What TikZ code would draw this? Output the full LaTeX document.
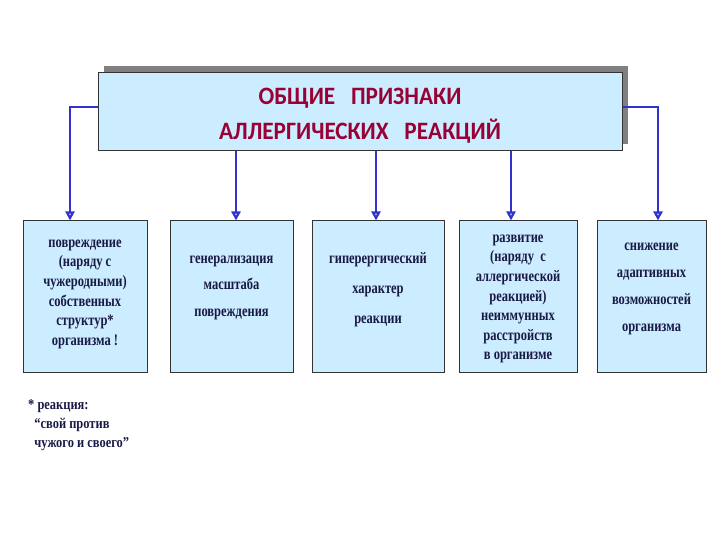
\documentclass[tikz,border=0pt]{standalone}
\usepackage{fontspec}
\setmainfont{Liberation Serif}
\newfontfamily\titlefont[FakeStretch=0.93]{Carlito}
\newfontfamily\boxfont[FakeStretch=0.78]{Liberation Serif}
\newfontfamily\notefont[FakeStretch=0.83]{Liberation Serif}
\usetikzlibrary{arrows.meta,shadows}

\definecolor{boxfill}{RGB}{204,236,255}
\definecolor{titlered}{RGB}{153,0,51}
\definecolor{boxtxt}{RGB}{25,25,70}
\definecolor{connblue}{RGB}{51,51,204}

\tikzset{
  titlebox/.style={draw=black!80, line width=1pt, fill=boxfill,
    minimum width=524pt, minimum height=78pt, inner sep=0pt,
    drop shadow={shadow xshift=6pt, shadow yshift=7pt, fill=black!50, opacity=1}},
  signbox/.style={draw=black!80, line width=1pt, fill=boxfill,
    minimum height=151pt, inner sep=0pt},
  signtext/.style={anchor=north, align=center, text=boxtxt, inner sep=0pt,
    font=\boxfont\bfseries\fontsize{16}{19.6}\selectfont},
  conn/.style={draw=connblue, line width=2.2pt,
    -{Triangle[open, length=9pt, width=9pt, fill=boxfill]}},
}

\begin{document}
\begin{tikzpicture}[x=1pt, y=-1pt]
  \useasboundingbox (0,0) rectangle (720,540);

  % Title
  \node[titlebox] (title) at (360,112) {};
  \node[align=center, text=titlered, inner sep=0pt,
    font=\titlefont\bfseries\fontsize{25}{35}\selectfont] (head)
    at ([yshift=-3.5pt]title.center)
    {ОБЩИЕ\ \ \ ПРИЗНАКИ\\АЛЛЕРГИЧЕСКИХ\ \ \ РЕАКЦИЙ};

  % Signs
  \node[signbox, minimum width=124pt] (b1) at (85,296.5) {};
  \node[signbox, minimum width=123pt] (b2) at (231.5,296.5) {};
  \node[signbox, minimum width=132pt] (b3) at (378,296.5) {};
  \node[signbox, minimum width=118pt] (b4) at (518,296.5) {};
  \node[signbox, minimum width=109pt] (b5) at (651.5,296.5) {};

  \node[signtext] (t1) at ([yshift=-19pt]b1.north)
    {повреждение\\(наряду с\\чужеродными)\\собственных\\структур*\\организма !};
  \node[signtext, font=\boxfont\bfseries\fontsize{16}{26.5}\selectfont] (t2)
    at ([yshift=-35pt]b2.north)
    {генерализация\\масштаба\\повреждения};
  \node[signtext, font=\boxfont\bfseries\fontsize{16}{30}\selectfont] (t3)
    at ([yshift=-32pt]b3.north)
    {гиперергический\\характер\\реакции};
  \node[signtext] (t4) at ([yshift=-14pt]b4.north)
    {развитие\\(наряду\ \ с\\аллергической\\реакцией)\\неиммунных\\расстройств\\в организме};
  \node[signtext, font=\boxfont\bfseries\fontsize{16}{27}\selectfont] (t5)
    at ([yshift=-22pt]b5.north)
    {снижение\\адаптивных\\возможностей\\организма};

  % Connectors
  \draw[conn] ([yshift=5pt]title.west) -| ([xshift=-15pt]b1.north);
  \draw[conn] ([yshift=5pt]title.east) -| ([xshift=6.5pt]b5.north);
  \draw[conn] ([xshift=4.5pt]b2.north |- title.south) -- ([xshift=4.5pt]b2.north);
  \draw[conn] ([xshift=-2pt]b3.north |- title.south) -- ([xshift=-2pt]b3.north);
  \draw[conn] ([xshift=-7pt]b4.north |- title.south) -- ([xshift=-7pt]b4.north);

  % Footnote
  \node[anchor=north west, align=left, text=boxtxt, inner sep=0pt,
    font=\notefont\bfseries\fontsize{15}{19}\selectfont] (note) at (28,399)
    {* реакция:\\\ \ “свой против\\\ \ чужого и своего”};
\end{tikzpicture}
\end{document}
